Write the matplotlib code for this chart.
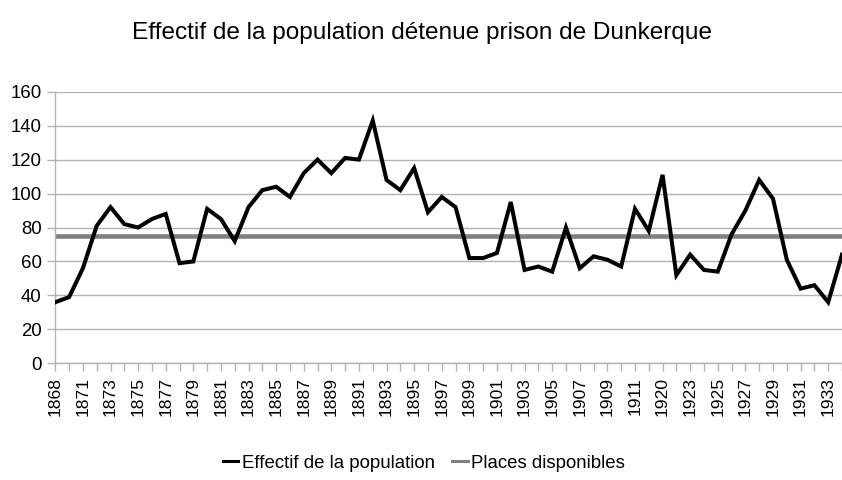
import matplotlib
matplotlib.use("Agg")
import matplotlib.pyplot as plt

plt.rcParams['font.family'] = ['Liberation Sans', 'DejaVu Sans']

years = (["1868", "1869"] + [str(y) for y in range(1871, 1913)] +
         ["1920", "1921"] + [str(y) for y in range(1923, 1935)])
effectif = [36, 39, 56, 81, 92, 82, 80, 85, 88, 59,
            60, 91, 85, 72, 92, 102, 104, 98, 112, 120,
            112, 121, 120, 143, 108, 102, 115, 89, 98, 92,
            62, 62, 65, 95, 55, 57, 54, 80, 56, 63,
            61, 57, 91, 78, 111, 52, 64, 55, 54, 76,
            90, 108, 97, 61, 44, 46, 36, 64]
places = [75] * len(years)

title = "Effectif de la population détenue prison de Dunkerque"
series_names = ["Effectif de la population", "Places disponibles"]

W, H = 842, 480
fig = plt.figure(figsize=(W / 100, H / 100), dpi=100)
x0, x1 = 55.3, 842
y0, y1 = 363.3, 91.7
ax = fig.add_axes([x0 / W, 1 - y0 / H, (x1 - x0) / W, (y0 - y1) / H])

xs = list(range(len(years)))
step = 13.89
ax.set_xlim(0, (x1 - x0) / step)
ax.set_ylim(0, 160)

grid_c = "#b3b3b3"
ax.plot(xs, effectif, color="black", lw=2.9, solid_joinstyle="miter", zorder=3,
        label=series_names[0])
ax.plot(xs, places, color="#808080", lw=3.3, zorder=2, label=series_names[1])

ax.set_yticks(range(0, 161, 20))
ax.yaxis.grid(True, color=grid_c, lw=1)
ax.set_axisbelow(True)
ax.set_xticks(xs)
ax.set_xticklabels([y if i % 2 == 0 else "" for i, y in enumerate(years)],
                   rotation=90, fontsize=12.6)
ax.tick_params(axis="x", length=5.8, color=grid_c, width=1, pad=4)
ax.tick_params(axis="y", length=5.8, color=grid_c, width=1, labelsize=13.4, pad=4)
for s in ["top", "right"]:
    ax.spines[s].set_visible(False)
for s in ["left", "bottom"]:
    ax.spines[s].set_color(grid_c)
    ax.spines[s].set_linewidth(1)

fig.text(422 / W, 1 - 39 / H, title, ha="center", va="baseline", fontsize=17.6)

h = [plt.Line2D([], [], color="black", lw=2.2), plt.Line2D([], [], color="#808080", lw=2.2)]
fig.legend(h, series_names, loc="center", bbox_to_anchor=(424 / W, 1 - 463 / H),
           ncol=2, frameon=False, fontsize=13.4, handlelength=0.85, handletextpad=0.2,
           columnspacing=0.9, borderpad=0, borderaxespad=0)

fig.savefig("out.png", dpi=100)
